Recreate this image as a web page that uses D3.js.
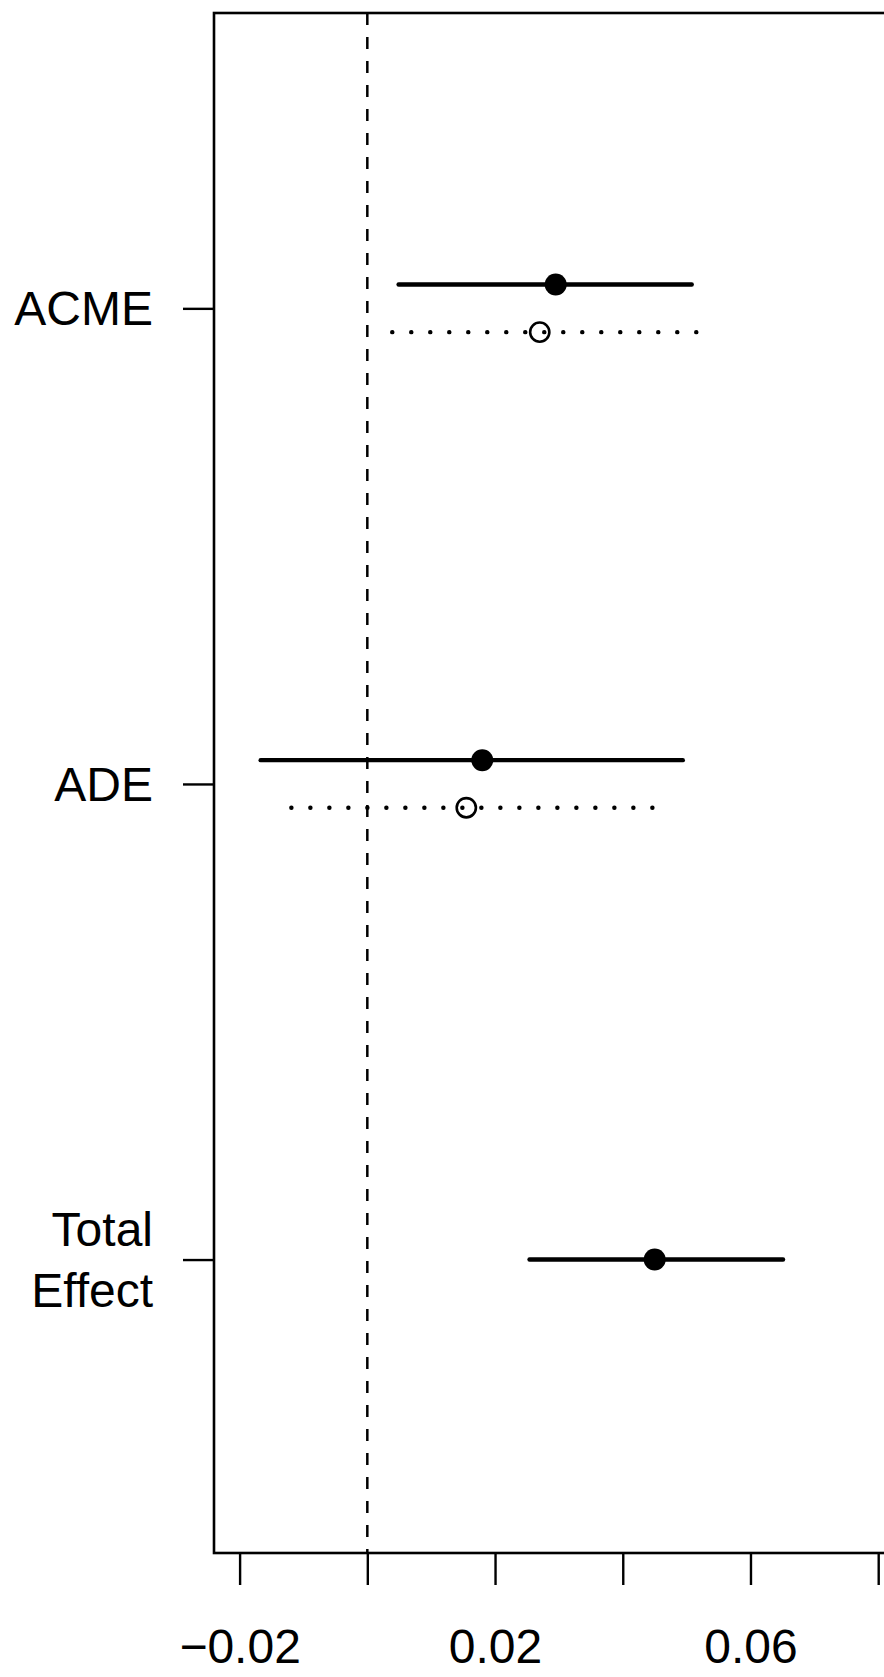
<!DOCTYPE html>
<html>
<head>
<meta charset="utf-8">
<script src="https://cdn.jsdelivr.net/npm/d3@7"></script>
<style>
  body { margin: 0; background: #fff; }
  svg { display: block; font-family: "Liberation Sans", Arial, Helvetica, sans-serif; }
</style>
</head>
<body>
<div id="chart"></div>
<script>
// effect labels, top to bottom
const categories = ["ACME", "ADE", "Total Effect"]

// first series (solid line, filled point)
const estSolid = [0.0295, 0.0180, 0.0450]
const lowSolid = [0.0049, -0.0167, 0.0254]
const highSolid = [0.0508, 0.0494, 0.0651]

// second series (dotted line, open point) - no total effect
const estDotted = [0.0270, 0.0155, null]
const lowDotted = [0.0039, -0.0119, null]
const highDotted = [0.0524, 0.0457, null]

const xTicks = [-0.02, 0, 0.02, 0.04, 0.06, 0.08]
const xTickLabels = [-0.02, 0.02, 0.06]

const WIDTH = 884
const HEIGHT = 1677
const BOX = {LEFT: 214, TOP: 13, BOTTOM: 1553, RIGHT: 900}

const svg = d3.select("#chart")
  .append("svg")
    .attr("width", WIDTH)
    .attr("height", HEIGHT)

const x = d3.scaleLinear()
  .domain([-0.02, 0.08])
  .range([239.6, 878.2])

// categories sit at 1,2,3
const y = d3.scaleLinear()
  .domain([0.379, 3.617])
  .range([BOX.TOP, BOX.BOTTOM])

const OFF = 0.05

// reference line at zero
svg.append("line")
  .attr("x1", x(0)).attr("x2", x(0))
  .attr("y1", BOX.TOP).attr("y2", BOX.BOTTOM)
  .attr("stroke", "#000")
  .attr("stroke-width", 2.5)
  .attr("stroke-dasharray", "12 12")

// box
svg.append("rect")
  .attr("x", BOX.LEFT).attr("y", BOX.TOP)
  .attr("width", BOX.RIGHT - BOX.LEFT)
  .attr("height", BOX.BOTTOM - BOX.TOP)
  .attr("fill", "none")
  .attr("stroke", "#000")
  .attr("stroke-width", 2.6)

// x axis
const xAxis = d3.axisBottom(x)
  .tickValues(xTicks)
  .tickSize(32)
  .tickFormat(d => xTickLabels.includes(d) ? d3.format(".2f")(d).replace("-", "\u2212") : "")

const xAxisGroup = svg.append("g")
  .attr("transform", `translate(0, ${BOX.BOTTOM})`)
  .call(xAxis)
xAxisGroup.select(".domain").remove()
xAxisGroup.selectAll(".tick line").attr("stroke", "#000").attr("stroke-width", 2.4)
xAxisGroup.selectAll(".tick text")
  .attr("y", 110)
  .attr("dy", null)
  .attr("fill", "#000")
  .style("font-size", "48px")
  .style("font-family", "'Liberation Sans', Arial, sans-serif")

// y axis
const yAxis = d3.axisLeft(y)
  .tickValues([1, 2, 3])
  .tickSize(31)
  .tickFormat("")

const yAxisGroup = svg.append("g")
  .attr("transform", `translate(${BOX.LEFT}, 0)`)
  .call(yAxis)
yAxisGroup.select(".domain").remove()
yAxisGroup.selectAll(".tick line").attr("stroke", "#000").attr("stroke-width", 2.4)

// category labels (multi-line allowed)
const labels = svg.selectAll("text.cat")
  .data(categories)
  .enter().append("text")
    .attr("class", "cat")
    .attr("text-anchor", "end")
    .attr("x", 153)
    .style("font-size", "48px")
    .attr("fill", "#000")

labels.each(function(d, i) {
  const words = d.split(" ")
  const lineH = 61
  const first = y(i + 1) + 17 - (words.length - 1) * lineH / 2
  d3.select(this).selectAll("tspan")
    .data(words)
    .enter().append("tspan")
      .attr("x", 153)
      .attr("y", (w, j) => first + j * lineH)
      .text(w => w)
})

// solid intervals
const solid = categories.map((c, i) => ({i, est: estSolid[i], lo: lowSolid[i], hi: highSolid[i]}))
const dotted = categories.map((c, i) => ({i, est: estDotted[i], lo: lowDotted[i], hi: highDotted[i]}))
  .filter(d => d.est !== null)

// total effect has one series only, so it sits on the tick
const solidY = d => dotted.some(e => e.i === d.i) ? y(d.i + 1 - OFF) : y(d.i + 1)

svg.selectAll("line.solid")
  .data(solid)
  .enter().append("line")
    .attr("class", "solid")
    .attr("x1", d => x(d.lo)).attr("x2", d => x(d.hi))
    .attr("y1", solidY).attr("y2", solidY)
    .attr("stroke", "#000")
    .attr("stroke-width", 4.4)
    .attr("stroke-linecap", "round")

svg.selectAll("circle.solid")
  .data(solid)
  .enter().append("circle")
    .attr("class", "solid")
    .attr("cx", d => x(d.est))
    .attr("cy", solidY)
    .attr("r", 11)
    .attr("fill", "#000")

svg.selectAll("line.dotted")
  .data(dotted)
  .enter().append("line")
    .attr("class", "dotted")
    .attr("x1", d => x(d.lo)).attr("x2", d => x(d.hi))
    .attr("y1", d => y(d.i + 1 + OFF)).attr("y2", d => y(d.i + 1 + OFF))
    .attr("stroke", "#000")
    .attr("stroke-width", 4.4)
    .attr("stroke-linecap", "round")
    .attr("stroke-dasharray", "0.1 18.9")

svg.selectAll("circle.dotted")
  .data(dotted)
  .enter().append("circle")
    .attr("class", "dotted")
    .attr("cx", d => x(d.est))
    .attr("cy", d => y(d.i + 1 + OFF))
    .attr("r", 9.6)
    .attr("fill", "none")
    .attr("stroke", "#000")
    .attr("stroke-width", 2.6)
</script>
</body>
</html>
